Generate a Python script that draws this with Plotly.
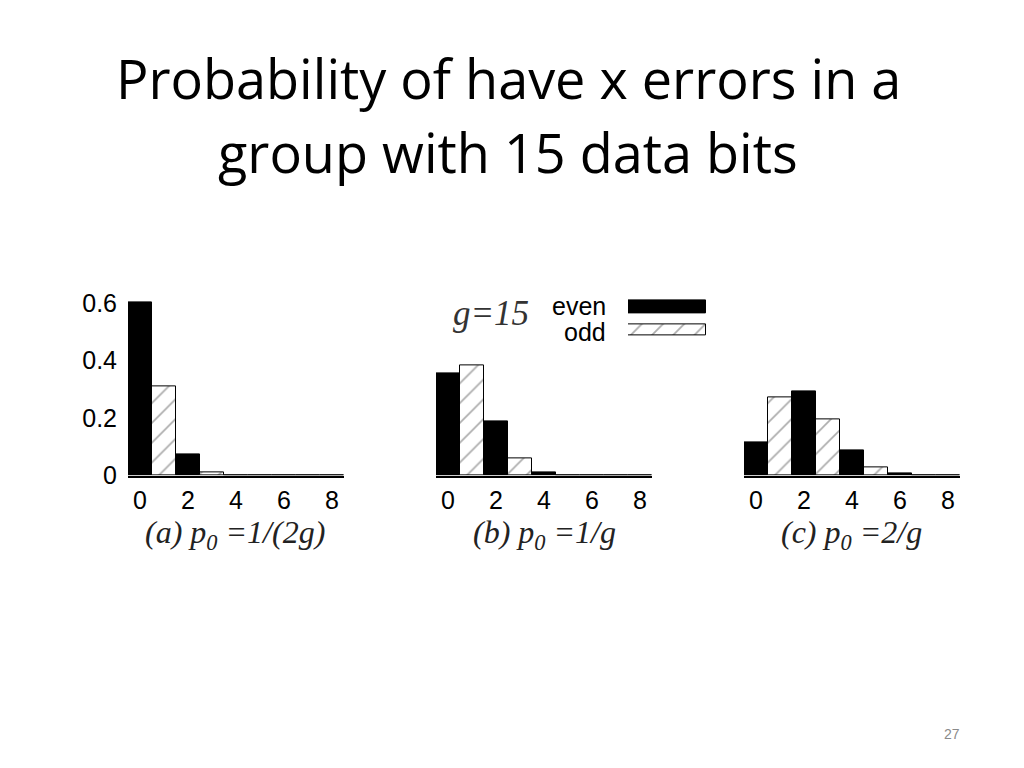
import plotly.graph_objects as go

# ---- data ----
x_even = [0, 2, 4, 6, 8]
x_odd = [1, 3, 5, 7]
a_even = [0.601, 0.075, 0.001, 0.0, 0.0]
a_odd = [0.311, 0.011, 0.0, 0.0]
b_even = [0.355, 0.190, 0.013, 0.0, 0.0]
b_odd = [0.381, 0.059, 0.002, 0.0]
c_even = [0.117, 0.291, 0.089, 0.008, 0.0]
c_odd = [0.270, 0.194, 0.030, 0.0015]
x_ticks = [0, 2, 4, 6, 8]
y_ticks = [0, 0.2, 0.4, 0.6]
y_ticklabels = ["0", "0.2", "0.4", "0.6"]
captions = ["(a) p<sub>0</sub> =1/(2g)", "(b) p<sub>0</sub> =1/g", "(c) p<sub>0</sub> =2/g"]
legend_names = ["even", "odd"]
title_lines = ["Probability of have x errors in a", "group with 15 data bits"]

W, H = 1024, 783
REF_H = 768
def fx(p): return p / W
def fy(p): return 1 - p / REF_H

SANS = "Liberation Sans, Arial"
SERIF = "Liberation Serif, Times New Roman"
HATCH = dict(shape="/", fgcolor="#5a5a5a", size=14, solidity=0.12)
fig = go.Figure()

panels = [(a_even, a_odd, 128, 344), (b_even, b_odd, 436, 652), (c_even, c_odd, 744, 960)]
for i, (ev, od, x0, x1) in enumerate(panels):
    n = "" if i == 0 else str(i + 1)
    fig.add_trace(go.Bar(x=x_even, y=ev, width=1, xaxis="x" + n, yaxis="y" + n,
                         marker=dict(color="black", line=dict(color="black", width=1)),
                         showlegend=False))
    fig.add_trace(go.Bar(x=x_odd, y=od, width=1, xaxis="x" + n, yaxis="y" + n,
                         marker=dict(color="white", line=dict(color="black", width=1), pattern=HATCH),
                         showlegend=False))
    fig.layout["xaxis" + n] = dict(domain=[fx(x0), fx(x1)], range=[-0.5, 8.5], anchor="y" + n,
                                   tickvals=x_ticks, showgrid=False, zeroline=False,
                                   showline=True, linecolor="black", linewidth=1.5,
                                   ticks="", ticklabelstandoff=2,
                                   tickfont=dict(family=SANS, size=25, color="black"))
    fig.layout["yaxis" + n] = dict(domain=[fy(475), fy(288)], range=[0, 0.65], anchor="x" + n,
                                   tickvals=y_ticks, ticktext=y_ticklabels, showgrid=False,
                                   zeroline=False, showline=False, ticks="",
                                   showticklabels=(i == 0), ticklabelstandoff=10,
                                   tickfont=dict(family=SANS, size=25, color="black"))

# legend swatches as horizontal bars in their own small axis
fig.add_trace(go.Bar(x=[1], y=[1], base=0, orientation="h", width=0.55, xaxis="x4", yaxis="y4",
                     marker=dict(color="black", line=dict(color="black", width=1)), showlegend=False))
fig.add_trace(go.Bar(x=[1], y=[0], base=0, orientation="h", width=0.5, xaxis="x4", yaxis="y4",
                     marker=dict(color="white", line=dict(color="black", width=1),
                                 pattern=dict(shape="/", fgcolor="#5a5a5a", size=15, solidity=0.12)),
                     showlegend=False))
fig.layout["xaxis4"] = dict(domain=[fx(628), fx(706)], range=[0, 1], anchor="y4", visible=False)
fig.layout["yaxis4"] = dict(domain=[fy(341), fy(295)], range=[-0.5, 1.5], anchor="x4", visible=False)

ann = []
# title
for ty, line in zip([78, 152], title_lines):
    ann.append(dict(text=line, x=fx(508), y=fy(ty), xref="paper", yref="paper",
                    showarrow=False, xanchor="center", yanchor="middle",
                    font=dict(family="Open Sans", size=54, color="black")))
# captions
for cx, txt in zip([235, 544, 851], captions):
    ann.append(dict(text="<i>" + txt + "</i>", x=fx(cx), y=fy(534), xref="paper", yref="paper",
                    showarrow=False, xanchor="center", yanchor="middle",
                    font=dict(family=SERIF, size=32, color="#222222")))
# legend text
ann.append(dict(text="<i>g=15</i>", x=fx(491), y=fy(313), xref="paper", yref="paper",
                showarrow=False, xanchor="center", yanchor="middle",
                font=dict(family=SERIF, size=35, color="#333333")))
ann.append(dict(text=legend_names[0], x=fx(608), y=fy(306), xref="paper", yref="paper",
                showarrow=False, xanchor="right", yanchor="middle",
                font=dict(family=SANS, size=25, color="black")))
ann.append(dict(text=legend_names[1], x=fx(608), y=fy(332), xref="paper", yref="paper",
                showarrow=False, xanchor="right", yanchor="middle",
                font=dict(family=SANS, size=25, color="black")))
# page number
ann.append(dict(text="27", x=fx(952), y=fy(733), xref="paper", yref="paper",
                showarrow=False, xanchor="center", yanchor="middle",
                font=dict(family=SANS, size=14, color="#8a8a8a")))

fig.update_layout(annotations=ann, margin=dict(l=0, r=0, t=0, b=0), width=W, height=H,
                  paper_bgcolor="white", plot_bgcolor="white", bargap=0, barmode="overlay")
fig.write_html("out.html", config={"displayModeBar": False},
               post_script=("document.documentElement.style.margin='0';"
                            "document.documentElement.style.padding='0';"
                            "document.documentElement.style.overflow='hidden';"
                            "document.body.style.margin='0';document.body.style.padding='0';"
                            "document.body.style.overflow='hidden';"))
